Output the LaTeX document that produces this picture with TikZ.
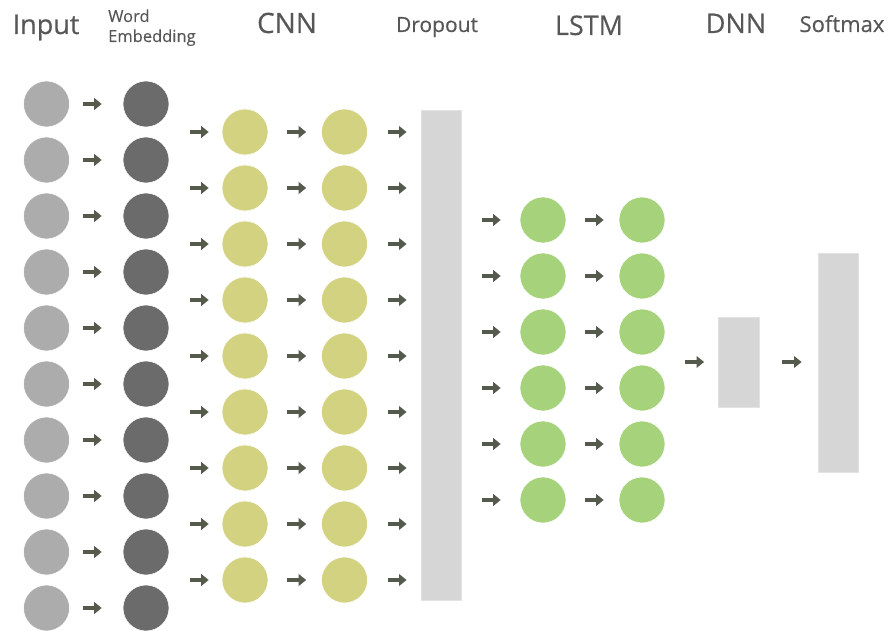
\documentclass[tikz,border=0pt]{standalone}
\usepackage{fontspec}
\setmainfont{Open Sans}
\newfontfamily\headfont{Open Sans}[FakeBold=0.35]
\usetikzlibrary{arrows.meta}
\definecolor{cin}{HTML}{ACACAC}
\definecolor{cem}{HTML}{6B6B6B}
\definecolor{ccnn}{HTML}{D3D280}
\definecolor{clstm}{HTML}{A6D27C}
\definecolor{cbox}{HTML}{D6D6D6}
\definecolor{cboxb}{HTML}{E2E2E2}
\definecolor{carr}{HTML}{545A4C}
\definecolor{ctxt}{HTML}{575757}
\tikzset{
  neuron/.style={circle, minimum size=46pt, inner sep=0pt, draw=white, line width=0.6pt},
  inneuron/.style={neuron, fill=cin},
  emneuron/.style={neuron, fill=cem},
  cnnneuron/.style={neuron, fill=ccnn},
  lstmneuron/.style={neuron, fill=clstm},
  layerbox/.style={rectangle, fill=cbox, draw=cboxb, line width=0.8pt, inner sep=0pt},
  arr/.style={draw=carr, line width=4.3pt, -{Triangle[length=7.5pt,width=11.5pt]}},
  head/.style={text=ctxt, inner sep=0pt, anchor=base},
}
\begin{document}
\begin{tikzpicture}[x=1pt,y=-1pt]
\useasboundingbox (0,0) rectangle (888,631);
% headings
\node[head, font=\headfont\fontsize{27}{30}\selectfont] (hin) at (46,34) {Input};
\node[head, font=\headfont\fontsize{16.5}{18}\selectfont, anchor=base west] (hw1) at (108,22) {Word};
\node[head, font=\headfont\fontsize{16.5}{18}\selectfont, anchor=base west] (hw2) at (108,42) {Embedding};
\node[head, font=\headfont\fontsize{28}{30}\selectfont] (hcnn) at (287,33) {CNN};
\node[head, font=\headfont\fontsize{21}{24}\selectfont] (hdrop) at (437,32) {Dropout};
\node[head, font=\headfont\fontsize{27}{30}\selectfont] (hlstm) at (589,35) {LSTM};
\node[head, font=\headfont\fontsize{27}{30}\selectfont] (hdnn) at (736,33) {DNN};
\node[head, font=\headfont\fontsize{22}{24}\selectfont] (hsoft) at (842,32) {Softmax};
% boxes
\node[layerbox, minimum width=40pt, minimum height=490pt] (drop) at (441,355) {};
\node[layerbox, minimum width=41pt, minimum height=90pt] (dnn) at (739,362) {};
\node[layerbox, minimum width=40pt, minimum height=219pt] (soft) at (838,362.5) {};
% input & embedding
\foreach \i in {1,...,10}{
  \node[inneuron] (in\i) at (46.5,{104+56*(\i-1)}) {};
  \node[emneuron] (em\i) at (146,{104+56*(\i-1)}) {};
  \draw[arr] ([xshift=13pt]in\i.east) -- ([xshift=-21pt]em\i.west);
}
% CNN
\foreach \i in {1,...,9}{
  \node[cnnneuron] (ca\i) at (245,{132+56*(\i-1)}) {};
  \node[cnnneuron] (cb\i) at (344.5,{132+56*(\i-1)}) {};
  \draw[arr] ([xshift=-32pt]ca\i.west) -- ([xshift=-13pt]ca\i.west);
  \draw[arr] ([xshift=19pt]ca\i.east) -- ([xshift=-15pt]cb\i.west);
  \coordinate (dr\i) at (drop.west |- cb\i.east);
  \draw[arr] ([xshift=20pt]cb\i.east) -- ([xshift=-14pt]dr\i);
}
% LSTM
\foreach \i in {1,...,6}{
  \node[lstmneuron] (la\i) at (543,{220+56*(\i-1)}) {};
  \node[lstmneuron] (lb\i) at (642,{220+56*(\i-1)}) {};
  \coordinate (de\i) at (drop.east |- la\i.west);
  \draw[arr] ([xshift=21pt]de\i) -- ([xshift=-19pt]la\i.west);
  \draw[arr] ([xshift=19pt]la\i.east) -- ([xshift=-15pt]lb\i.west);
}
\coordinate (lmid) at (lb3.east |- dnn.west);
\draw[arr] ([xshift=20pt]lmid) -- ([xshift=-14pt]dnn.west);
\draw[arr] ([xshift=22pt]dnn.east) -- ([xshift=-16pt]soft.west |- dnn.east);
\end{tikzpicture}
\end{document}
